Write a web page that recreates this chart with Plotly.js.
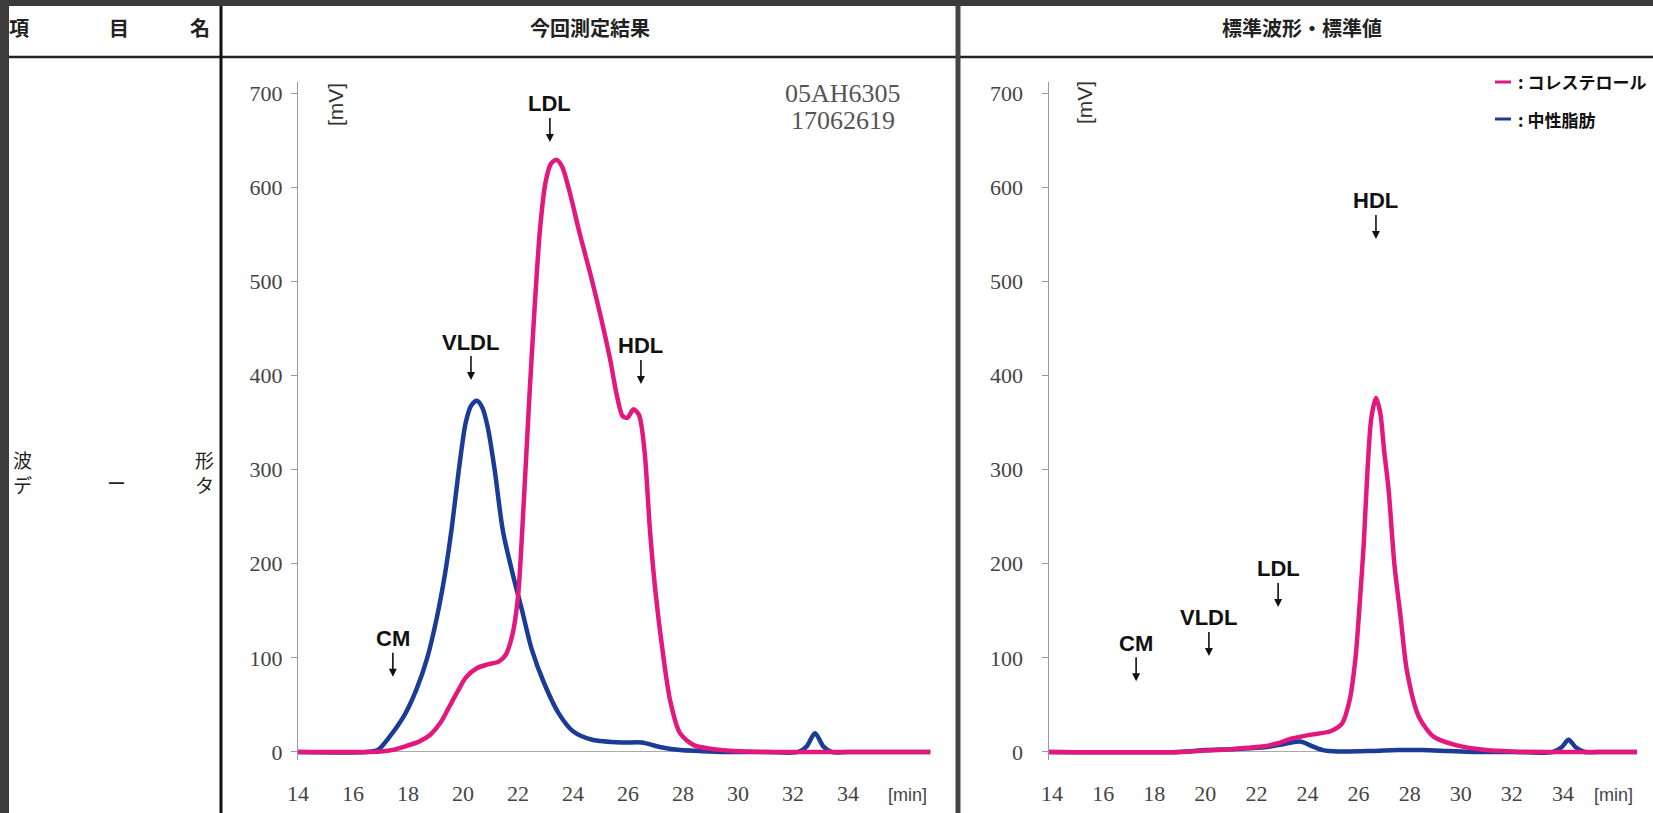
<!DOCTYPE html>
<html><head><meta charset="utf-8">
<script src="https://cdn.plot.ly/plotly-3.0.1.min.js"></script>
<style>html,body{margin:0;padding:0;background:#fff;}#chart{width:1653px;height:813px;}</style>
</head><body><div id="chart"></div>
<script>
// ---------- data ----------
const xTicks = [14,16,18,20,22,24,26,28,30,32,34];
const yTicks = [0,100,200,300,400,500,600,700];

// 今回測定結果 : コレステロール
const measCholTime = [14,16,17.0,17.5,17.9,18.4,18.8,19.2,19.5,19.8,20.1,20.5,20.9,21.3,21.55,21.8,22.0,22.2,22.4,22.6,22.8,23.0,23.2,23.4,23.6,23.85,24.25,24.62,24.98,25.35,25.6,25.8,25.98,26.2,26.4,26.6,26.8,27.0,27.27,27.53,27.89,28.41,29.12,29.82,31,34,37];
const measChol     = [0,0,0.5,2.5,6,11,18,32,48,64,79,89,93,96,103,125,165,260,370,470,555,605,625,629,622,598,550,509,466,417,378,357,355,364,358,320,235,170,105,55,20,7,3,1,0,0,0];
// 今回測定結果 : 中性脂肪
const measTgTime = [14,16.5,16.9,17.3,17.85,18.3,18.7,19.05,19.35,19.6,19.85,20.1,20.3,20.5,20.7,20.9,21.15,21.45,21.8,22.15,22.5,22.95,23.48,24.0,24.7,25.8,26.5,27.2,27.9,28.6,29.5,31,32.2,32.5,32.8,33.1,33.4,34,37];
const measTg     = [0,0,2,15,38,66,100,143,190,240,300,350,368,373,366,345,300,235,190,150,109,73,41,22,13,10,10,5,2,1,0,0,0,6,20,6,0,0,0];

// 標準波形・標準値 : コレステロール
const stdCholTime = [13.86,19,20,21,22.3,22.8,23.35,24.05,24.9,25.35,25.65,25.88,26.05,26.2,26.35,26.5,26.68,26.85,27.0,27.17,27.4,27.65,27.9,28.35,28.95,29.85,31,32,34,36.9];
const stdChol     = [0,0,1.5,3,6,9,14,18,22,30,55,100,160,220,300,355,376,360,320,280,200,142,85,38,16,7,2,0.5,0,0];
// 標準波形・標準値 : 中性脂肪
const stdTgTime = [13.86,19,20,21,22.3,23.0,23.7,24.2,24.6,25.2,26.5,27.5,28.5,29.5,30.5,32,33.6,33.95,34.22,34.5,34.85,35.4,36.9];
const stdTg     = [0,0,2,3,5,8,11,6,2,0.5,1,2,2,1,0,0,0,5,13,5,0,0,0];

// ---------- style ----------
const PINK = '#e3187f', BLUE = '#1b3c96';
const W = 1653, H = 813;
const px = x => x / W, py = y => 1 - y / H;

function line(x, y, color, xa, ya) {
  return {x: x, y: y, xaxis: xa, yaxis: ya, type: 'scatter', mode: 'lines',
    line: {color: color, width: 4.5, shape: 'spline', smoothing: 0.8},
    hoverinfo: 'skip', showlegend: false};
}
const data = [
  line(measTgTime, measTg, BLUE, 'x', 'y'),
  line(measCholTime, measChol, PINK, 'x', 'y'),
  line(stdTgTime, stdTg, BLUE, 'x2', 'y2'),
  line(stdCholTime, stdChol, PINK, 'x2', 'y2')
];

const tickFont = {family: 'Liberation Serif', size: 22, color: '#444'};
function xax(domain, range, anchor) {
  return {domain: domain, range: range, anchor: anchor, tickvals: xTicks, ticktext: xTicks.map(String),
    showline: false, showgrid: false, zeroline: false, ticks: '', tickfont: tickFont,
    ticklabelstandoff: 18, fixedrange: true};
}
function yax(anchor, standoff) {
  return {domain: [py(759.5), py(81.7)], range: [-8, 712], anchor: anchor, tickvals: yTicks,
    ticktext: yTicks.map(String), showline: true, linecolor: '#9a9a9a', linewidth: 1,
    ticks: 'outside', ticklen: 6, tickcolor: '#9a9a9a', showgrid: false,
    zeroline: true, zerolinecolor: '#aaa', zerolinewidth: 1, tickfont: tickFont,
    ticklabelstandoff: standoff, fixedrange: true};
}

const jp = {family: 'Noto Sans CJK JP', size: 19, color: '#222'};
const jpb = {family: 'Noto Sans CJK JP', size: 20, color: '#222', weight: 700};
const leg = {family: 'Noto Sans CJK JP', size: 17, color: '#111', weight: 700};
function txt(x, y, text, font, extra) {
  return Object.assign({xref: 'paper', yref: 'paper', x: px(x), y: py(y), text: text,
    showarrow: false, font: font, xanchor: 'center', yanchor: 'middle'}, extra || {});
}
const pk = {family: 'Liberation Sans', size: 22, color: '#111', weight: 700};
function peak(xa, ya, x, y, text) {
  return {xref: xa, yref: ya, x: x, y: y, text: text, showarrow: true, ax: 0, ay: -38,
    arrowhead: 2, arrowsize: 1, arrowwidth: 1.6, arrowcolor: '#111', font: pk};
}
const unit = {family: 'Liberation Sans', size: 21, color: '#333'};

const annotations = [
  txt(19, 28, '項', jpb), txt(119, 28, '目', jpb), txt(200, 28, '名', jpb),
  txt(590, 28, '今回測定結果', jpb), txt(1302, 28, '標準波形・標準値', jpb),
  txt(22, 472, '波<br>デ', jp), txt(117, 483, 'ー', jp),
  txt(204, 472, '形<br>タ', jp),
  txt(335, 105, '[mV]', unit, {textangle: -90}),
  txt(1084, 103, '[mV]', unit, {textangle: -90}),
  txt(907, 795, '[min]', {family: 'Liberation Sans', size: 18, color: '#444'}),
  txt(1613, 795, '[min]', {family: 'Liberation Sans', size: 18, color: '#444'}),
  txt(843, 93, '05AH6305', {family: 'Liberation Serif', size: 26, color: '#555'}),
  txt(843, 120, '17062619', {family: 'Liberation Serif', size: 26, color: '#555'}),
  txt(1516, 82, ': コレステロール', leg, {xanchor: 'left'}),
  txt(1516, 119, ': 中性脂肪', leg, {xanchor: 'left'}),
  peak('x', 'y', 23.16, 648, 'LDL'),
  peak('x', 'y', 20.29, 395, 'VLDL'),
  peak('x', 'y', 26.47, 391, 'HDL'),
  peak('x', 'y', 17.45, 80, 'CM'),
  peak('x2', 'y2', 26.68, 545, 'HDL'),
  peak('x2', 'y2', 22.85, 154, 'LDL'),
  peak('x2', 'y2', 20.14, 102, 'VLDL'),
  peak('x2', 'y2', 17.29, 75, 'CM')
];

const shapes = [
  {type: 'rect', xref: 'paper', yref: 'paper', x0: 0, x1: 1, y0: py(6), y1: 1, fillcolor: '#3b3b3b', line: {width: 0}},
  {type: 'rect', xref: 'paper', yref: 'paper', x0: 0, x1: px(9), y0: 0, y1: 1, fillcolor: '#3b3b3b', line: {width: 0}},
  {type: 'line', xref: 'paper', yref: 'paper', x0: px(9), x1: 1, y0: py(57), y1: py(57), line: {color: '#222', width: 2.5}},
  {type: 'line', xref: 'paper', yref: 'paper', x0: px(221), x1: px(221), y0: 0, y1: py(6), line: {color: '#111', width: 3}},
  {type: 'line', xref: 'paper', yref: 'paper', x0: px(958), x1: px(958), y0: 0, y1: py(6), line: {color: '#444', width: 5}},
  {type: 'line', xref: 'paper', yref: 'paper', x0: px(1495), x1: px(1511), y0: py(82), y1: py(82), line: {color: PINK, width: 3}},
  {type: 'line', xref: 'paper', yref: 'paper', x0: px(1495), x1: px(1511), y0: py(119), y1: py(119), line: {color: BLUE, width: 3}}
];

const layout = {
  width: W, height: H, margin: {l: 0, r: 0, t: 0, b: 0},
  paper_bgcolor: '#fff', plot_bgcolor: 'rgba(0,0,0,0)', showlegend: false,
  xaxis: xax([px(298), px(930.5)], [14, 37], 'y'),
  yaxis: yax('x', 4),
  xaxis2: xax([px(1048.5), px(1637)], [13.86, 36.9], 'y2'),
  yaxis2: yax('x2', 14),
  annotations: annotations, shapes: shapes
};
Plotly.newPlot('chart', data, layout, {displayModeBar: false, staticPlot: true});
</script></body></html>
